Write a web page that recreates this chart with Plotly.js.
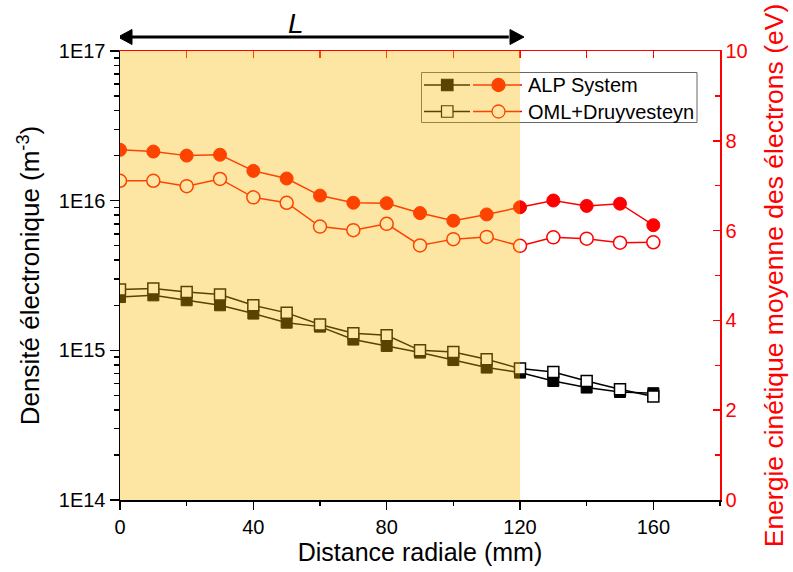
<!DOCTYPE html>
<html>
<head>
<meta charset="utf-8">
<script src="https://cdn.plot.ly/plotly-3.0.1.min.js"></script>
<style>html,body{margin:0;padding:0;background:#fff;}#chart{width:793px;height:572px;}</style>
</head>
<body>
<div id="chart"></div>
<script>
// ---- data ----
var distance = [0,10,20,30,40,50,60,70,80,90,100,110,120,130,140,150,160];
var alpDensity = [2.27e15,2.33e15,2.16e15,2.0e15,1.76e15,1.53e15,1.44e15,1.18e15,1.07e15,9.66e14,8.61e14,7.67e14,7.1e14,6.24e14,5.64e14,5.27e14,5.17e14];
var omlDensity = [2.55e15,2.59e15,2.45e15,2.36e15,2.0e15,1.78e15,1.49e15,1.30e15,1.26e15,1.0e15,9.75e14,8.71e14,7.55e14,7.17e14,6.24e14,5.5e14,4.91e14];
var alpEnergy = [7.80,7.76,7.67,7.69,7.33,7.16,6.78,6.62,6.61,6.39,6.22,6.36,6.52,6.67,6.55,6.60,6.12];
var omlEnergy = [7.11,7.11,6.99,7.15,6.74,6.62,6.09,6.01,6.15,5.67,5.81,5.86,5.66,5.85,5.82,5.73,5.74];
var seriesNames = ['ALP System','OML+Druyvesteyn'];
var xTicks = [0,40,80,120,160];
var xMinor = [20,60,100,140,180];
var xTopTicks = [20,40,60,80,100,120,140,160];
var yTickVals = [1e14,1e15,1e16,1e17];
var yTickText = ['1E14','1E15','1E16','1E17'];
var yMinor = [];
[14,15,16].forEach(function(e){for(var d=2;d<=9;d++){yMinor.push(d*Math.pow(10,e));}});
var y2Ticks = [0,2,4,6,8,10];
var y2Minor = [1,3,5,7,9];
var regionL = [0,120];

var FONT = 'Liberation Sans, Arial, sans-serif';
var RED = '#FF0000';

var traces = [
  {x: distance, y: alpDensity, xaxis:'x', yaxis:'y', mode:'lines+markers', name: seriesNames[0], showlegend:false,
   line:{color:'#000', width:1.5}, marker:{symbol:'square', size:11, color:'#000', line:{color:'#000', width:1}}},
  {x: distance, y: omlDensity, xaxis:'x', yaxis:'y', mode:'lines+markers', name: seriesNames[1], showlegend:false,
   line:{color:'#000', width:1.5}, marker:{symbol:'square', size:11, color:'#fff', line:{color:'#000', width:1.5}}},
  {x: distance, y: alpEnergy, xaxis:'x2', yaxis:'y2', mode:'lines+markers', name: seriesNames[0], showlegend:false,
   line:{color:RED, width:1.5}, marker:{symbol:'circle', size:13, color:RED, line:{color:RED, width:1}}},
  {x: distance, y: omlEnergy, xaxis:'x2', yaxis:'y2', mode:'lines+markers', name: seriesNames[1], showlegend:false,
   line:{color:RED, width:1.5}, marker:{symbol:'circle', size:13, color:'#fff', line:{color:RED, width:1.5}}}
];

function px2x(px){return (px-120)/600;}
function py2y(py){return (500-py)/449;}

var shapes = [];
// custom legend box
shapes.push({type:'rect', xref:'paper', yref:'paper', x0:px2x(421.5), x1:px2x(697), y0:py2y(122.5), y1:py2y(72.5),
  line:{color:'#666', width:1}, fillcolor:'rgba(255,255,255,1)', layer:'above'});
var rows = [85, 111.5];
rows.forEach(function(ry, i){
  var yy = py2y(ry);
  shapes.push({type:'line', xref:'paper', yref:'paper', x0:px2x(424), x1:px2x(470), y0:yy, y1:yy, line:{color:'#000', width:1.5}, layer:'above'});
  shapes.push({type:'rect', xref:'paper', yref:'paper', x0:px2x(441.5), x1:px2x(453), y0:py2y(ry+5.75), y1:py2y(ry-5.75),
    line:{color:'#000', width:1.2}, fillcolor: i===0 ? '#000' : '#fff', layer:'above'});
  shapes.push({type:'line', xref:'paper', yref:'paper', x0:px2x(473), x1:px2x(522), y0:yy, y1:yy, line:{color:RED, width:1.5}, layer:'above'});
  shapes.push({type:'circle', xref:'paper', yref:'paper', x0:px2x(492), x1:px2x(505), y0:py2y(ry+6.5), y1:py2y(ry-6.5),
    line:{color:RED, width:1.3}, fillcolor: i===0 ? RED : '#fff', layer:'above'});
});
// translucent region L overlay
shapes.push({type:'rect', xref:'x', yref:'paper', x0:regionL[0], x1:regionL[1], y0:0, y1:1,
  fillcolor:'rgba(250,186,0,0.36)', line:{width:0}, layer:'above'});

// double-headed arrow over region L (pixel geometry converted to x-data / paper units)
var arrY = py2y(37);
var headLen = 14/3.3333;
var headHalf = 7.5/449;
shapes.push({type:'line', xref:'x', yref:'paper', x0:regionL[0]+headLen*0.8, x1:regionL[1]-headLen*0.8, y0:arrY, y1:arrY,
  line:{color:'#000', width:3}});
shapes.push({type:'path', xref:'x', yref:'paper',
  path:'M '+(regionL[0]-0.6)+' '+arrY+' L '+(regionL[0]-0.6+headLen)+' '+(arrY+headHalf)+' L '+(regionL[0]-0.6+headLen)+' '+(arrY-headHalf)+' Z',
  fillcolor:'#000', line:{color:'#000', width:1}});
shapes.push({type:'path', xref:'x', yref:'paper',
  path:'M '+(regionL[1]+1.2)+' '+arrY+' L '+(regionL[1]+1.2-headLen)+' '+(arrY+headHalf)+' L '+(regionL[1]+1.2-headLen)+' '+(arrY-headHalf)+' Z',
  fillcolor:'#000', line:{color:'#000', width:1}});

var annotations = [
  {xref:'paper', yref:'paper', x:px2x(526), y:py2y(85), xanchor:'left', yanchor:'middle', showarrow:false,
   text: seriesNames[0], font:{family:FONT, size:20, color:'#000'}},
  {xref:'paper', yref:'paper', x:px2x(526), y:py2y(111.5), xanchor:'left', yanchor:'middle', showarrow:false,
   text: seriesNames[1], font:{family:FONT, size:20, color:'#000'}},
  {xref:'paper', yref:'paper', x:px2x(296), y:py2y(24), xanchor:'center', yanchor:'middle', showarrow:false,
   text:'<i>L</i>', font:{family:FONT, size:28, color:'#000'}}
];

var layout = {
  width:793, height:572,
  margin:{l:120, r:73, t:51, b:72, pad:0},
  paper_bgcolor:'#fff', plot_bgcolor:'#fff',
  font:{family:FONT, color:'#000'},
  showlegend:false,
  xaxis:{range:[0,180], tickmode:'array', tickvals:xTicks, ticktext:xTicks.map(String),
    ticks:'outside', ticklen:8, tickwidth:1.5, tickcolor:'#000',
    minor:{tickmode:'array', tickvals:xMinor, ticks:'outside', ticklen:4, tickwidth:1.5, tickcolor:'#000', showgrid:false},
    showline:true, linecolor:'#000', linewidth:1.5, showgrid:false, zeroline:false,
    tickfont:{family:FONT, size:20, color:'#000'},
    title:{text:'Distance radiale (mm)', font:{family:FONT, size:25, color:'#000'}, standoff:5}},
  yaxis:{type:'log', range:[14,17], tickmode:'array', tickvals:yTickVals, ticktext:yTickText,
    ticks:'outside', ticklen:9, tickwidth:1.5, tickcolor:'#000',
    minor:{tickmode:'array', tickvals:yMinor, ticks:'outside', ticklen:5, tickwidth:1.5, tickcolor:'#000', showgrid:false},
    showline:true, linecolor:'#000', linewidth:1.5, showgrid:false, zeroline:false,
    tickfont:{family:FONT, size:20, color:'#000'},
    title:{text:'Densité électronique (m<sup>-3</sup>)', font:{family:FONT, size:26, color:'#000'}, standoff:11}},
  xaxis2:{overlaying:'x', anchor:'y2', side:'top', range:[0,180], tickmode:'array', tickvals:xTopTicks,
    ticks:'inside', ticklen:7, tickwidth:1.5, tickcolor:RED, showticklabels:false,
    showline:true, linecolor:RED, linewidth:1.5, showgrid:false, zeroline:false},
  yaxis2:{overlaying:'y', anchor:'x2', side:'right', range:[0,10], tickmode:'array', tickvals:y2Ticks, ticktext:y2Ticks.map(String),
    ticks:'inside', ticklen:7, tickwidth:1.5, tickcolor:RED,
    minor:{tickmode:'array', tickvals:y2Minor, ticks:'inside', ticklen:5, tickwidth:1.5, tickcolor:RED, showgrid:false},
    showline:true, linecolor:RED, linewidth:1.5, showgrid:false, zeroline:false,
    tickfont:{family:FONT, size:20, color:RED},
    title:{text:'Energie cinétique moyenne des électrons (eV)', font:{family:FONT, size:26.5, color:RED}, standoff:17}},
  shapes:shapes,
  annotations:annotations
};

Plotly.newPlot('chart', traces, layout, {staticPlot:true, displayModeBar:false});
</script>
</body>
</html>
